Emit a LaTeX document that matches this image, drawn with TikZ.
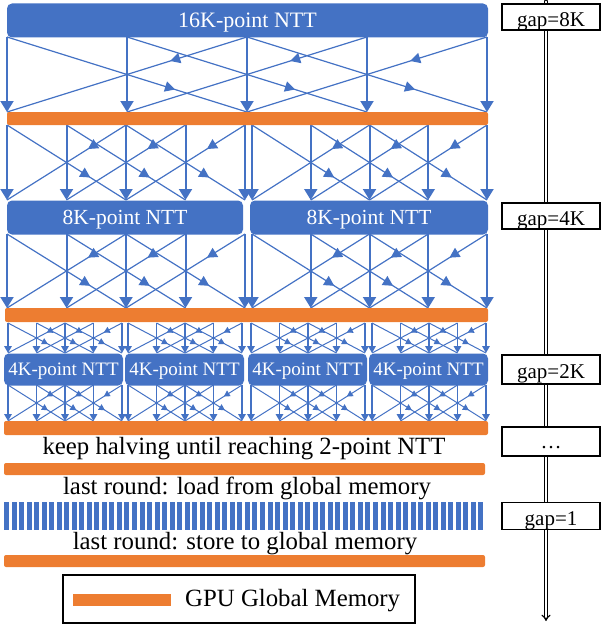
\documentclass[tikz,border=0pt]{standalone}
\usepackage{fontspec}
\setmainfont{Liberation Serif}
\usetikzlibrary{arrows.meta,decorations.markings}
\definecolor{nttblue}{HTML}{4472C4}
\definecolor{memorange}{HTML}{ED7D31}
\tikzset{
  nttbox/.style={fill=nttblue, draw=none, rounded corners=5pt, text=white, inner sep=0pt, text depth=0pt},
  membar/.style={fill=memorange, draw=none, rounded corners=2pt, inner sep=0pt},
  gapbox/.style={draw=black, line width=1.6pt, fill=white, inner sep=0pt, minimum width=98pt,
    text height=18.5pt, text depth=0pt, font=\fontsize{21}{24}\selectfont},
  vertbig/.style={color=nttblue, line width=2pt, -{Triangle[length=11pt,width=13pt]}},
  vertsmall/.style={color=nttblue, line width=1.6pt, -{Triangle[length=7pt,width=7.5pt]}},
  drbig/.style={color=nttblue, line width=1.2pt, postaction={decorate},
    decoration={markings, mark=at position 0.7 with {\arrow{Triangle[length=10pt,width=10.5pt]}}}},
  dlbig/.style={color=nttblue, line width=1.2pt, postaction={decorate},
    decoration={markings, mark=at position 0.32 with {\arrow{Triangle[length=10pt,width=10.5pt]}}}},
  drsmall/.style={color=nttblue, line width=1pt, postaction={decorate},
    decoration={markings, mark=at position 0.7 with {\arrow{Triangle[length=6pt,width=6.5pt]}}}},
  dlsmall/.style={color=nttblue, line width=1pt, postaction={decorate},
    decoration={markings, mark=at position 0.32 with {\arrow{Triangle[length=6pt,width=6.5pt]}}}},
  maintext/.style={font=\fontsize{24.8}{28}\selectfont, inner sep=0pt, text height=16.4pt, text depth=0pt},
}
% #1 prefix, #2 x0, #3 dx, #4 ytop, #5 ybot, #6 size (big/small)
\newcommand{\bflystage}[6]{%
  \foreach \i in {0,...,4}{%
    \coordinate (#1t\i) at ({#2+\i*#3},#4);
    \coordinate (#1b\i) at ({#2+\i*#3},#5);
  }%
  \foreach \i in {0,...,4}{\draw[vert#6] (#1t\i) -- (#1b\i);}%
  \foreach \i [evaluate=\i as \j using int(\i+2)] in {0,1,2}{%
    \draw[dr#6] (#1t\i) -- (#1b\j);
    \draw[dl#6] (#1t\j) -- (#1b\i);
  }%
}
\begin{document}
\begin{tikzpicture}[x=1pt,y=-1pt]
\useasboundingbox (0,0) rectangle (606,626);
% butterfly stages
\bflystage{A}{7}{120}{37}{112}{big}
\bflystage{Ba}{7}{59.5}{125}{200}{big}
\bflystage{Bb}{252}{58.75}{125}{200}{big}
\bflystage{Ca}{7}{59.5}{234}{308}{big}
\bflystage{Cb}{252}{58.75}{234}{308}{big}
\bflystage{Da}{8}{28.5}{323}{353}{small}
\bflystage{Db}{128}{28.5}{323}{353}{small}
\bflystage{Dc}{251}{28.5}{323}{353}{small}
\bflystage{Dd}{372}{28.5}{323}{353}{small}
\bflystage{Ea}{8}{28.5}{385}{421}{small}
\bflystage{Eb}{128}{28.5}{385}{421}{small}
\bflystage{Ec}{251}{28.5}{385}{421}{small}
\bflystage{Ed}{372}{28.5}{385}{421}{small}
% NTT boxes
\node[nttbox, minimum width=481pt, minimum height=34pt, text height=14.6pt, font=\fontsize{22}{26}\selectfont] (n16) at (247.5,20.5) {16K-point NTT};
\node[nttbox, minimum width=236pt, minimum height=34pt, text height=14.3pt, font=\fontsize{21.5}{25}\selectfont] (n8a) at (125,217.5) {8K-point NTT};
\node[nttbox, minimum width=238pt, minimum height=34pt, text height=14.3pt, font=\fontsize{21.5}{25}\selectfont] (n8b) at (369,217.5) {8K-point NTT};
\foreach \c/\nm in {63.5/n4a,184.5/n4b,307.5/n4c,428.5/n4d}{
  \node[nttbox, minimum width=119pt, minimum height=32pt, text height=12.6pt, font=\fontsize{19}{22}\selectfont] (\nm) at (\c,369.5) {4K-point NTT};
}
% memory bars
\node[membar, minimum width=481pt, minimum height=13pt] (bar1) at (247.5,118.5) {};
\node[membar, minimum width=483pt, minimum height=14pt] (bar2) at (246.5,315) {};
\node[membar, minimum width=484pt, minimum height=14pt] (bar3) at (246,428) {};
\node[membar, minimum width=481pt, minimum height=12pt] (bar4) at (244.5,469) {};
\node[membar, minimum width=481pt, minimum height=12pt] (bar5) at (244.5,561) {};
% texts
\node[maintext] (t1) at (244,446) {keep halving until reaching 2-point NTT};
\node[maintext] (t2) at (247,486.5) {last round: load from global memory};
\node[maintext] (t3) at (245,541.5) {last round: store to global memory};
% last-round stripes
\foreach \k in {0,...,63}{
  \fill[nttblue] ({4+\k*7.53},502) rectangle ++(5,28);
}
% legend
\node[draw=black, line width=1.5pt, minimum width=352pt, minimum height=48pt, inner sep=0pt] (leg) at (239,599) {};
\coordinate (legA) at (73,600);
\coordinate (legB) at (171,600);
\draw[memorange, line width=12pt] (legA) -- (legB);
\node[maintext, anchor=west] (legt) at (185,598.5) {GPU Global Memory};
% right axis
\coordinate (axtop) at (546,1.5);
\coordinate (axbot) at (546,621);
\draw[double=white, double distance=1.8pt, line width=1.2pt, line cap=round, -{Implies}] (axtop) -- (axbot);
\node[gapbox, minimum height=26pt] (g8) at (551,17) {gap=8K};
\node[gapbox, minimum height=26pt] (g4) at (551,216) {gap=4K};
\node[gapbox, minimum height=29pt] (g2) at (551,369.5) {gap=2K};
\node[gapbox, minimum height=29pt, text height=13pt] (gd) at (551,441.5) {…};
\node[gapbox, minimum height=27pt] (g1) at (551,516) {gap=1};
\end{tikzpicture}
\end{document}
